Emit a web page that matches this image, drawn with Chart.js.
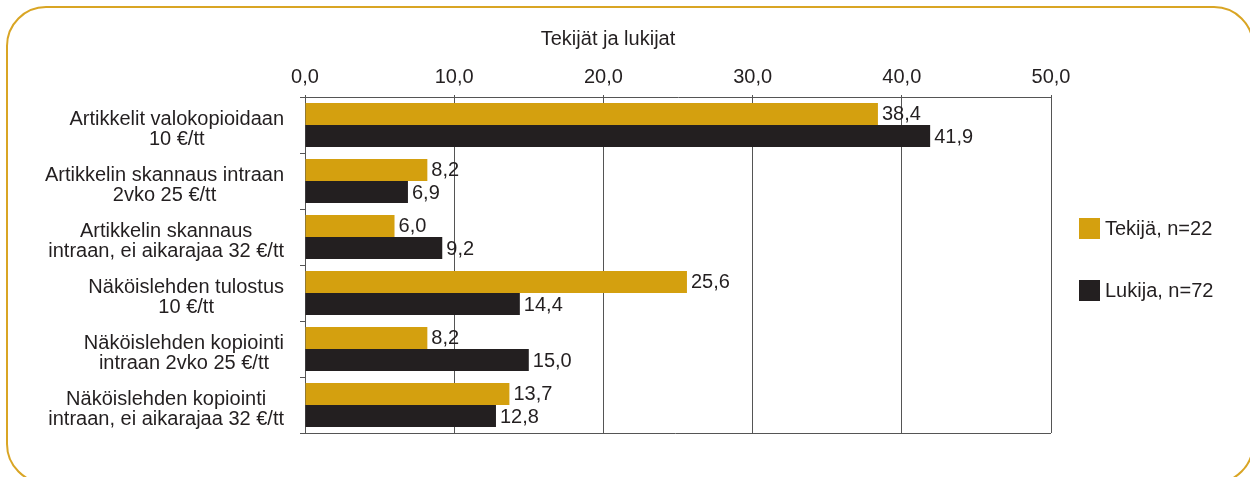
<!DOCTYPE html>
<html>
<head>
<meta charset="utf-8">
<script src="https://cdn.jsdelivr.net/npm/chart.js@4.4.1/dist/chart.umd.min.js"></script>
<style>
  html, body { margin: 0; padding: 0; background: #fff; }
  #wrap { position: relative; width: 1250px; height: 477px; overflow: hidden; }
  #frame {
    position: absolute; left: 6px; top: 6px; width: 1248px; height: 478px;
    border: 2px solid #d9a524; border-radius: 40px; box-sizing: border-box;
  }
  canvas { position: absolute; left: 0; top: 0; }
</style>
</head>
<body>
<div id="wrap">
  <div id="frame"></div>
  <canvas id="chart" width="1250" height="477"></canvas>
</div>
<script>
const chartTitle = 'Tekijät ja lukijat';
const categories = [
    ['Artikkelit valokopioidaan', '10 €/tt'],
    ['Artikkelin skannaus intraan', '2vko 25 €/tt'],
    ['Artikkelin skannaus', 'intraan, ei aikarajaa 32 €/tt'],
    ['Näköislehden tulostus', '10 €/tt'],
    ['Näköislehden kopiointi', 'intraan 2vko 25 €/tt'],
    ['Näköislehden kopiointi', 'intraan, ei aikarajaa 32 €/tt']
];
const seriesNames = ['Tekijä, n=22', 'Lukija, n=72'];
const tekijaValues = [38.4, 8.2, 6.0, 25.6, 8.2, 13.7];
const lukijaValues = [41.9, 6.9, 9.2, 14.4, 15.0, 12.8];
const seriesColors = ['#d4a00f', '#231f20'];
const xTicks = [0, 10, 20, 30, 40, 50];

const FONT = '"Liberation Sans", Arial, sans-serif';
const FSIZE = 20;
const TEXT = '#231f20';
const GRID = '#555555';

const fmt = v => v.toFixed(1).replace('.', ',');

// value labels, y labels, title, legend, bottom line
const decorations = {
    id: 'decorations',
    afterDatasetsDraw(chart) {
        const ctx = chart.ctx;
        const area = chart.chartArea;
        ctx.save();
        ctx.font = FSIZE + 'px ' + FONT;
        ctx.fillStyle = TEXT;

        // values at bar ends
        ctx.textAlign = 'left';
        ctx.textBaseline = 'middle';
        chart.data.datasets.forEach((ds, i) => {
            chart.getDatasetMeta(i).data.forEach((bar, j) => {
                ctx.fillText(fmt(ds.data[j]), bar.x + 4, bar.y + 1);
            });
        });

        // category labels, lines centered within block
        const yScale = chart.scales.y;
        ctx.textAlign = 'center';
        categories.forEach((lines, i) => {
            const yc = yScale.getPixelForTick(i) + 4;
            const w = Math.max(...lines.map(l => ctx.measureText(l).width));
            const cx = area.left - 21 - w / 2;
            const lh = 20;
            lines.forEach((l, k) => {
                ctx.fillText(l, cx, yc + (k - (lines.length - 1) / 2) * lh);
            });
        });

        // title
        ctx.fillText(chartTitle, 608, 39);

        // bottom border of the plot box
        ctx.strokeStyle = GRID;
        ctx.lineWidth = 1;
        ctx.beginPath();
        ctx.moveTo(area.left - 5, Math.round(area.bottom) + 0.5);
        ctx.lineTo(area.right, Math.round(area.bottom) + 0.5);
        ctx.stroke();

        // legend
        ctx.textAlign = 'left';
        const legY = [228, 290];
        seriesNames.forEach((name, i) => {
            ctx.fillStyle = seriesColors[i];
            ctx.fillRect(1079, legY[i] - 10, 21, 21);
            ctx.fillStyle = TEXT;
            ctx.fillText(name, 1105, legY[i] + 1);
        });
        ctx.restore();
    }
};

new Chart(document.getElementById('chart'), {
    type: 'bar',
    data: {
        labels: categories,
        datasets: [
            { label: seriesNames[0], data: tekijaValues, backgroundColor: seriesColors[0] },
            { label: seriesNames[1], data: lukijaValues, backgroundColor: seriesColors[1] }
        ]
    },
    options: {
        indexAxis: 'y',
        responsive: false,
        animation: false,
        layout: { padding: { left: 0, right: 199, top: 0, bottom: 44 } },
        datasets: { bar: { categoryPercentage: 0.79, barPercentage: 1.0 } },
        plugins: {
            legend: { display: false },
            title: { display: false },
            tooltip: { enabled: false }
        },
        scales: {
            x: {
                position: 'top',
                min: 0,
                max: 50,
                afterBuildTicks: s => { s.ticks = xTicks.map(v => ({ value: v })); },
                afterFit: s => { s.height = 97; },
                ticks: {
                    color: TEXT,
                    font: { family: FONT, size: FSIZE },
                    padding: 6,
                    callback: v => fmt(v)
                },
                grid: { color: GRID, lineWidth: 1, tickLength: 2 },
                border: { color: GRID, width: 1 }
            },
            y: {
                afterFit: s => { s.width = 305; },
                ticks: { display: false },
                grid: { offset: true, drawOnChartArea: false, drawTicks: true, tickLength: 5, color: GRID },
                border: { color: GRID, width: 1 }
            }
        }
    },
    plugins: [decorations]
});
</script>
</body>
</html>
